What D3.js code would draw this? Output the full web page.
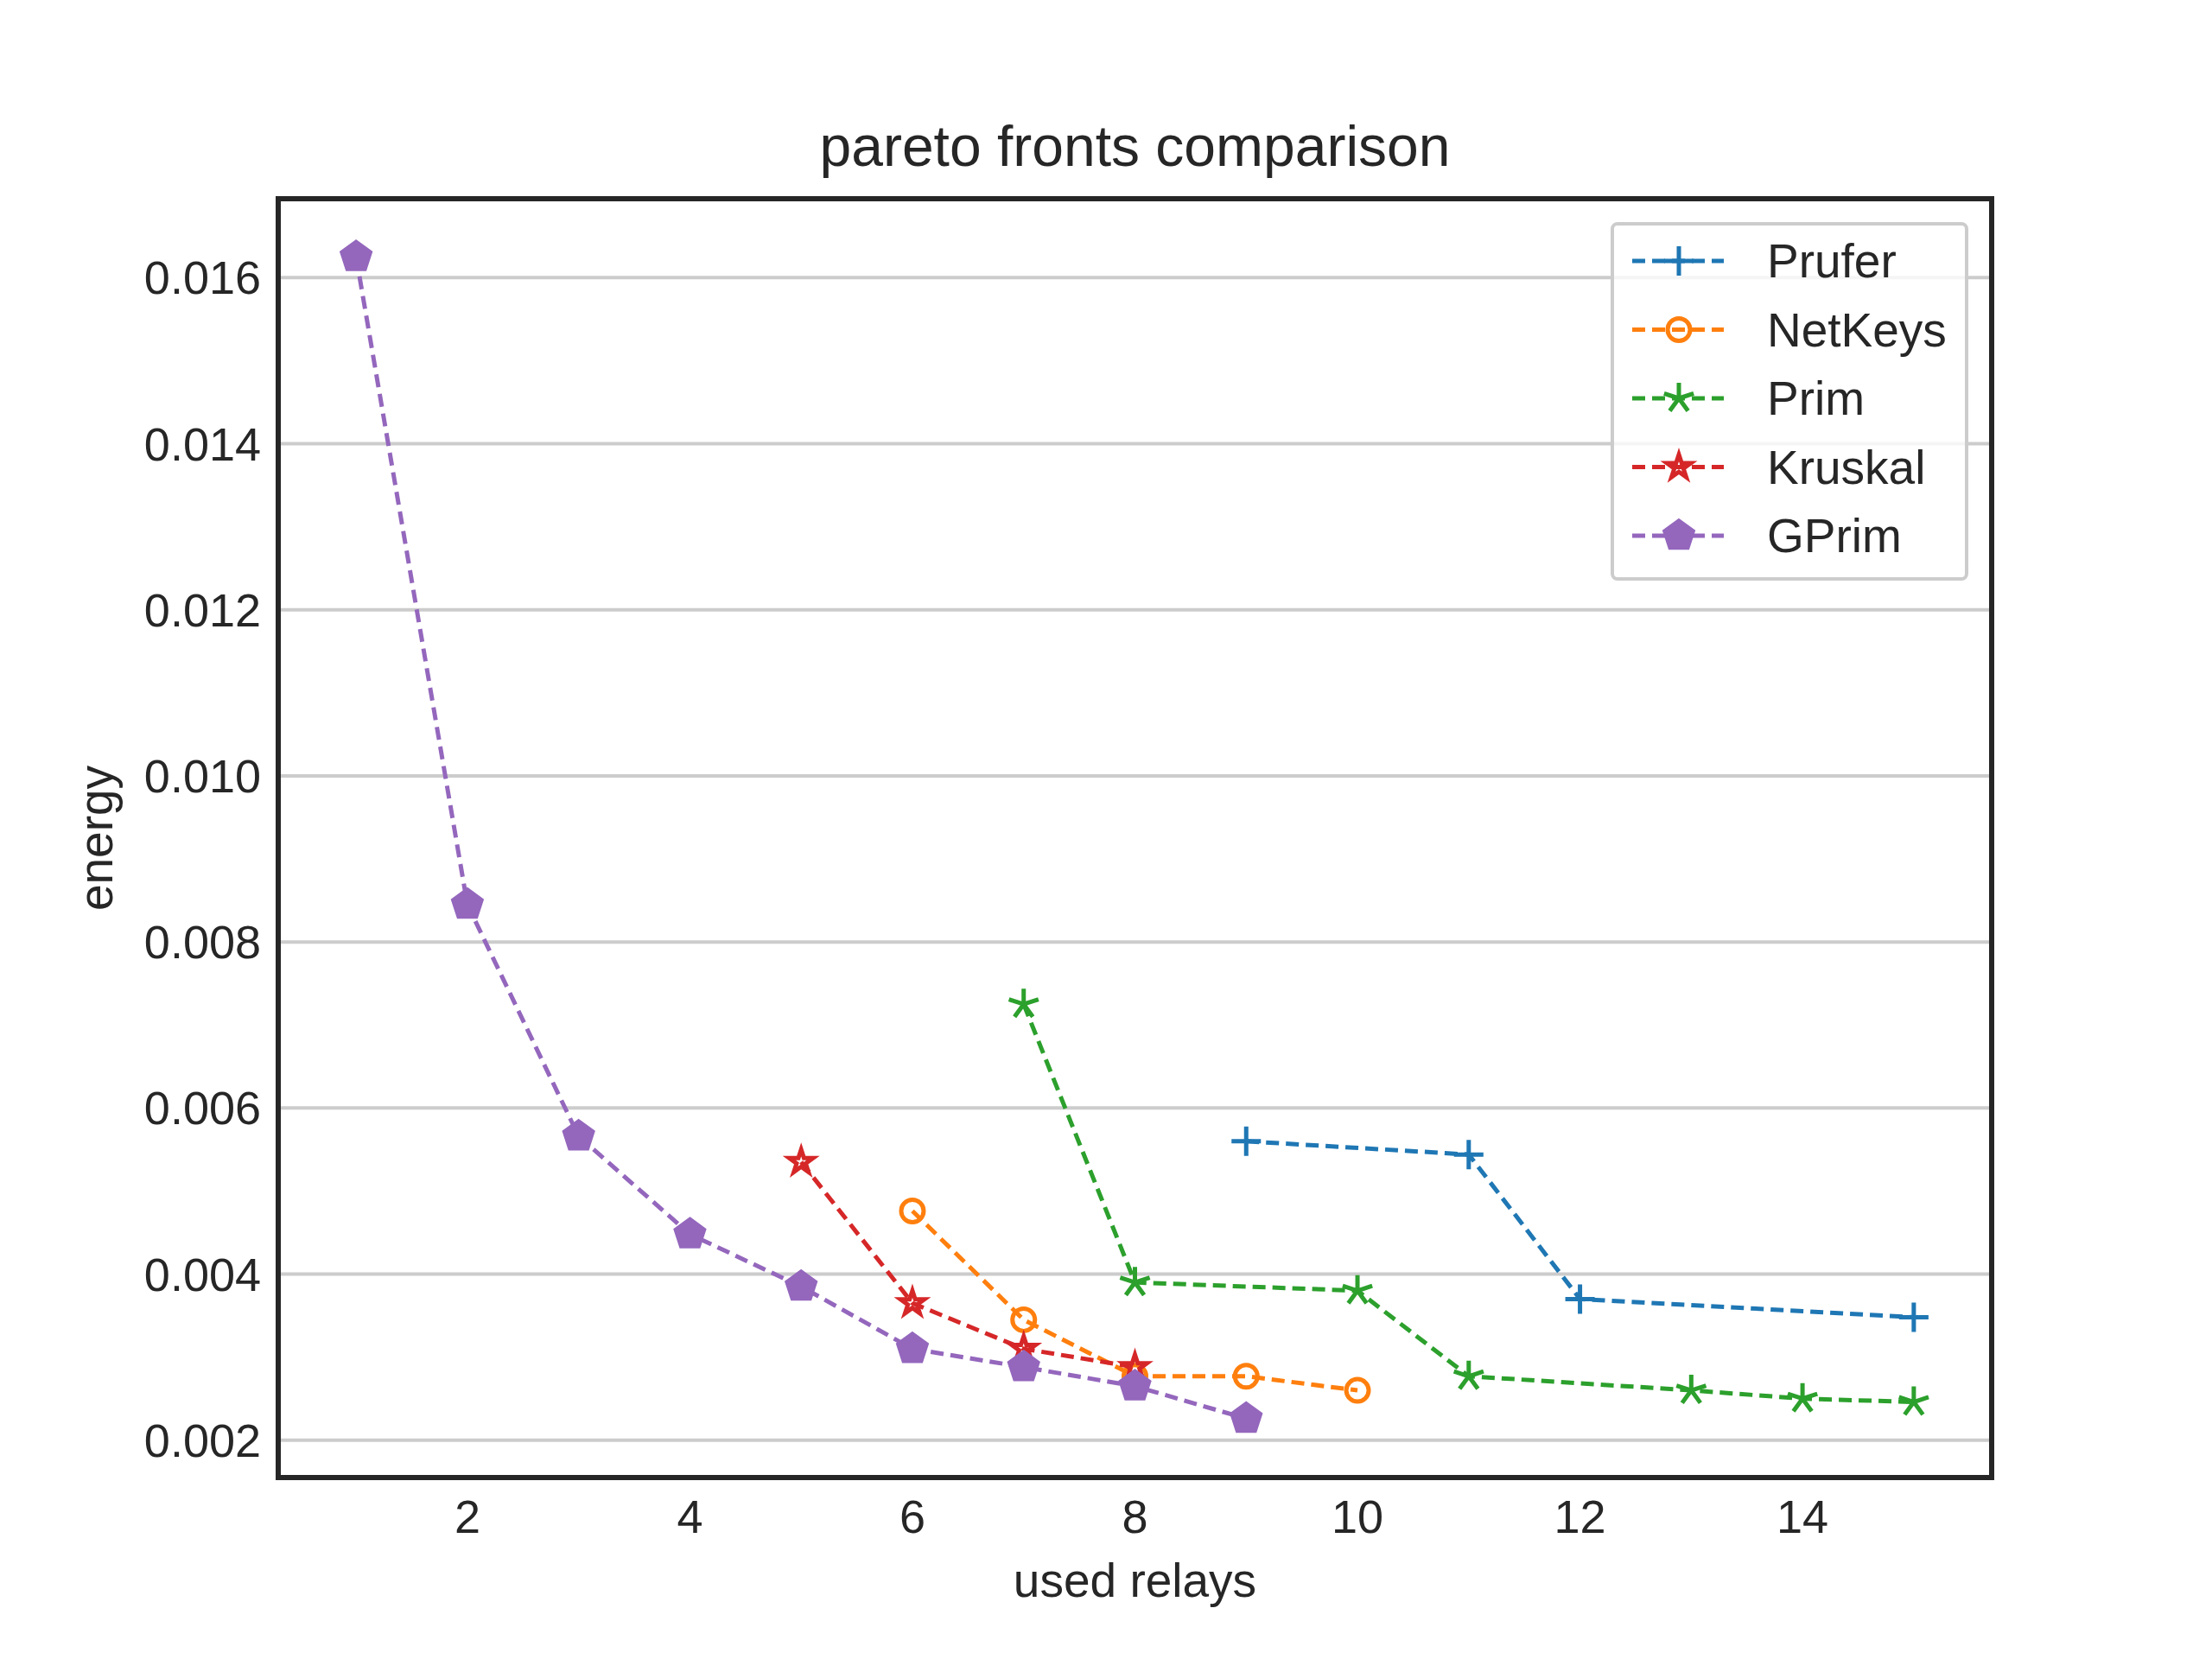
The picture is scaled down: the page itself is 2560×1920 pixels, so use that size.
<!DOCTYPE html>
<html>
<head>
<meta charset="UTF-8">
<script src="https://cdnjs.cloudflare.com/ajax/libs/d3/7.8.5/d3.min.js"></script>
<style>
  body { margin: 0; background: #fff; }
  text { font-family: "Liberation Sans", Arial, sans-serif; fill: #262626; }
</style>
</head>
<body>
<div id="chart"></div>
<script>
// data
const pruferX = [9, 11, 12, 15];
const pruferY = [0.0056, 0.00544, 0.0037, 0.00348];
const netkeysX = [6, 7, 8, 9, 10];
const netkeysY = [0.00476, 0.00345, 0.00277, 0.00277, 0.0026];
const primX = [7, 8, 10, 11, 13, 14, 15];
const primY = [0.00725, 0.0039, 0.0038, 0.00277, 0.0026, 0.0025, 0.00246];
const kruskalX = [5, 6, 7, 8];
const kruskalY = [0.00535, 0.00365, 0.0031, 0.00288];
const gprimX = [1, 2, 3, 4, 5, 6, 7, 8, 9];
const gprimY = [0.01625, 0.00845, 0.00566, 0.00448, 0.00385, 0.0031, 0.00288, 0.00265, 0.00226];
const xTicks = [2, 4, 6, 8, 10, 12, 14];
const yTicks = [0.002, 0.004, 0.006, 0.008, 0.010, 0.012, 0.014, 0.016];

const series = [
  {name: "Prufer", xs: pruferX, ys: pruferY, color: "#1f77b4", marker: "plus"},
  {name: "NetKeys", xs: netkeysX, ys: netkeysY, color: "#ff7f0e", marker: "circle"},
  {name: "Prim", xs: primX, ys: primY, color: "#2ca02c", marker: "asterisk"},
  {name: "Kruskal", xs: kruskalX, ys: kruskalY, color: "#d62728", marker: "star"},
  {name: "GPrim", xs: gprimX, ys: gprimY, color: "#9467bd", marker: "pentagon"}
];

const W = 2560, H = 1920;
const m = {left: 322, right: 2305, top: 230, bottom: 1710};

const x = d3.scaleLinear().domain([0.3, 15.7]).range([m.left, m.right]);
const y = d3.scaleLinear().domain([0.00155, 0.01695]).range([m.bottom, m.top]);

const svg = d3.select("#chart").append("svg").attr("width", W).attr("height", H);

// grid
svg.append("g").selectAll("line").data(yTicks).join("line")
    .attr("x1", m.left).attr("x2", m.right)
    .attr("y1", d => y(d)).attr("y2", d => y(d))
    .attr("stroke", "#cccccc").attr("stroke-width", 4);

// tick labels
svg.append("g").selectAll("text").data(xTicks).join("text")
    .attr("x", d => x(d)).attr("y", m.bottom + 64)
    .attr("text-anchor", "middle").attr("font-size", 54)
    .text(d => d);
svg.append("g").selectAll("text").data(yTicks).join("text")
    .attr("x", m.left - 20).attr("y", d => y(d) + 19)
    .attr("text-anchor", "end").attr("font-size", 54)
    .text(d => d3.format(".3f")(d));

function markerPath(type, s) {
  if (type === "plus") return `M${-s},0H${s}M0,${-s}V${s}`;
  if (type === "asterisk") {
    let p = "";
    for (let i = 0; i < 5; i++) {
      const a = -Math.PI / 2 + i * 2 * Math.PI / 5;
      p += `M0,0L${s * Math.cos(a)},${s * Math.sin(a)}`;
    }
    return p;
  }
  if (type === "star") return d3.symbol(d3.symbolStar, s * s * 1.2)();
  if (type === "pentagon") {
    const pts = d3.range(5).map(i => {
      const a = -Math.PI / 2 + i * 2 * Math.PI / 5;
      return [s * Math.cos(a), s * Math.sin(a)];
    });
    return "M" + pts.join("L") + "Z";
  }
  return "";
}

function drawMarker(g, type, color) {
  if (type === "circle") {
    g.append("circle").attr("r", 13).attr("fill", "none")
        .attr("stroke", color).attr("stroke-width", 5);
  } else if (type === "plus" || type === "asterisk") {
    g.append("path").attr("d", markerPath(type, type === "plus" ? 17 : 18))
        .attr("stroke", color).attr("stroke-width", 5).attr("fill", "none");
  } else if (type === "star") {
    g.append("path").attr("d", markerPath(type, 14)).attr("fill", "none")
        .attr("stroke", color).attr("stroke-width", 5);
  } else {
    g.append("path").attr("d", markerPath(type, 19)).attr("fill", color)
        .attr("stroke", color).attr("stroke-width", 2);
  }
}

const line = d3.line().x(d => x(d[0])).y(d => y(d[1]));
series.forEach(s => {
  const pts = s.xs.map((v, i) => [v, s.ys[i]]);
  svg.append("path").datum(pts).attr("d", line)
      .attr("fill", "none").attr("stroke", s.color)
      .attr("stroke-width", 5).attr("stroke-dasharray", "15,8");
  pts.forEach(p => {
    const g = svg.append("g").attr("transform", `translate(${x(p[0])},${y(p[1])})`);
    drawMarker(g, s.marker, s.color);
  });
});

// frame
svg.append("rect").attr("x", m.left).attr("y", m.top)
    .attr("width", m.right - m.left).attr("height", m.bottom - m.top)
    .attr("fill", "none").attr("stroke", "#262626").attr("stroke-width", 6);

// legend
const lg = svg.append("g");
lg.append("rect").attr("x", 1866).attr("y", 259).attr("width", 410).attr("height", 411)
    .attr("rx", 6).attr("fill", "#fff").attr("fill-opacity", 0.8)
    .attr("stroke", "#cccccc").attr("stroke-width", 4);
series.forEach((s, i) => {
  const ly = 302 + i * 79.5;
  lg.append("line").attr("x1", 1889).attr("x2", 1995).attr("y1", ly).attr("y2", ly)
      .attr("stroke", s.color).attr("stroke-width", 5).attr("stroke-dasharray", "15,8");
  drawMarker(lg.append("g").attr("transform", `translate(1943,${ly})`), s.marker, s.color);
  lg.append("text").attr("x", 2045).attr("y", ly + 19).attr("font-size", 55).text(s.name);
});

// titles
svg.append("text").attr("x", (m.left + m.right) / 2).attr("y", 192)
    .attr("text-anchor", "middle").attr("font-size", 66).text("pareto fronts comparison");
svg.append("text").attr("x", (m.left + m.right) / 2).attr("y", 1848)
    .attr("text-anchor", "middle").attr("font-size", 55).text("used relays");
svg.append("text").attr("transform", `translate(130,${(m.top + m.bottom) / 2}) rotate(-90)`)
    .attr("text-anchor", "middle").attr("font-size", 55).text("energy");
</script>
</body>
</html>
